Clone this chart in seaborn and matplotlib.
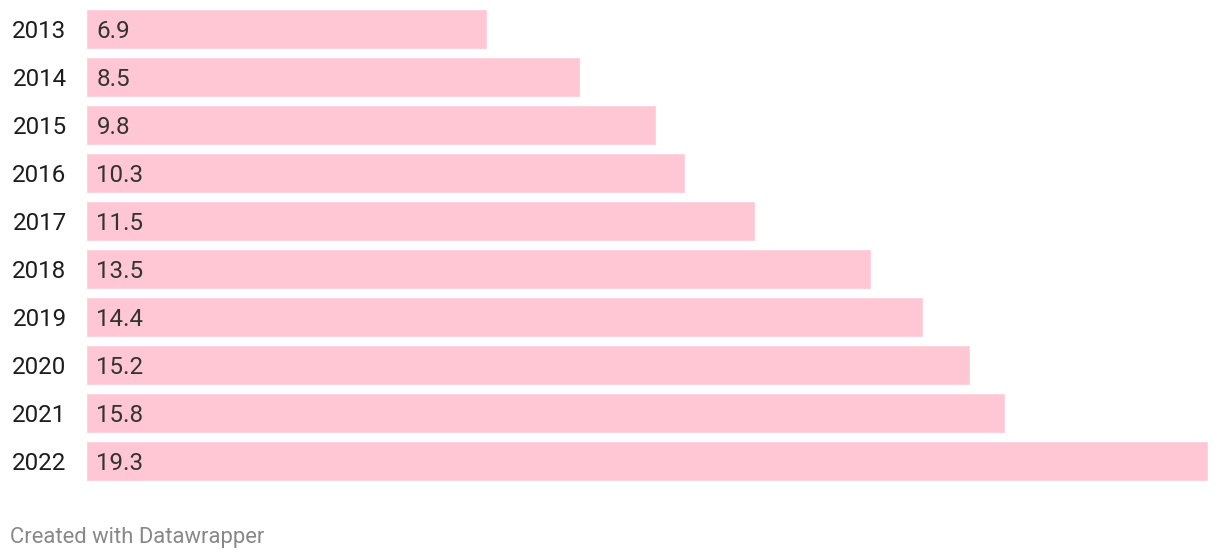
import matplotlib
matplotlib.use("Agg")
import matplotlib.pyplot as plt
import seaborn as sns
import pandas as pd

years = ["2013", "2014", "2015", "2016", "2017", "2018", "2019", "2020", "2021", "2022"]
values = [6.9, 8.5, 9.8, 10.3, 11.5, 13.5, 14.4, 15.2, 15.8, 19.3]
value_labels = ["6.9", "8.5", "9.8", "10.3", "11.5", "13.5", "14.4", "15.2", "15.8", "19.3"]

sns.set_theme(style="white")
plt.rcParams["font.family"] = ["Roboto", "DejaVu Sans"]

W, H = 1220, 558
fig = plt.figure(figsize=(W / 100, H / 100), dpi=100)
ax_left, ax_right = 86 / W, 1208 / W
ax_top, ax_bot = 1 - 4.75 / H, 1 - 485 / H
ax = fig.add_axes([ax_left, ax_bot, ax_right - ax_left, ax_top - ax_bot])

df = pd.DataFrame({"year": years, "value": values})
sns.barplot(data=df, x="value", y="year", orient="h", color="#FFC6D4",
            width=39.5 / 48, saturation=1, ax=ax)

ax.set_xlim(0, 19.3)
ax.set_ylim(len(years) - 0.5, -0.5)
ax.set_xlabel("")
ax.set_ylabel("")
ax.set_xticks([])
for s in ax.spines.values():
    s.set_visible(False)
ax.tick_params(axis="y", length=0, pad=14, labelsize=17.4, labelcolor="#1d1d1d")
for t in ax.get_yticklabels():
    t.set_verticalalignment("center_baseline")

for i, lab in enumerate(value_labels):
    ax.annotate(lab, xy=(0, i), xytext=(7.5, 0), textcoords="offset points",
                ha="left", va="center_baseline", fontsize=17.4, color="#333333")

fig.text(10 / W, 1 - 535 / H, "Created with Datawrapper", ha="left", va="center_baseline",
         fontsize=15.8, color="#888888")

fig.savefig("out.png", dpi=100)
